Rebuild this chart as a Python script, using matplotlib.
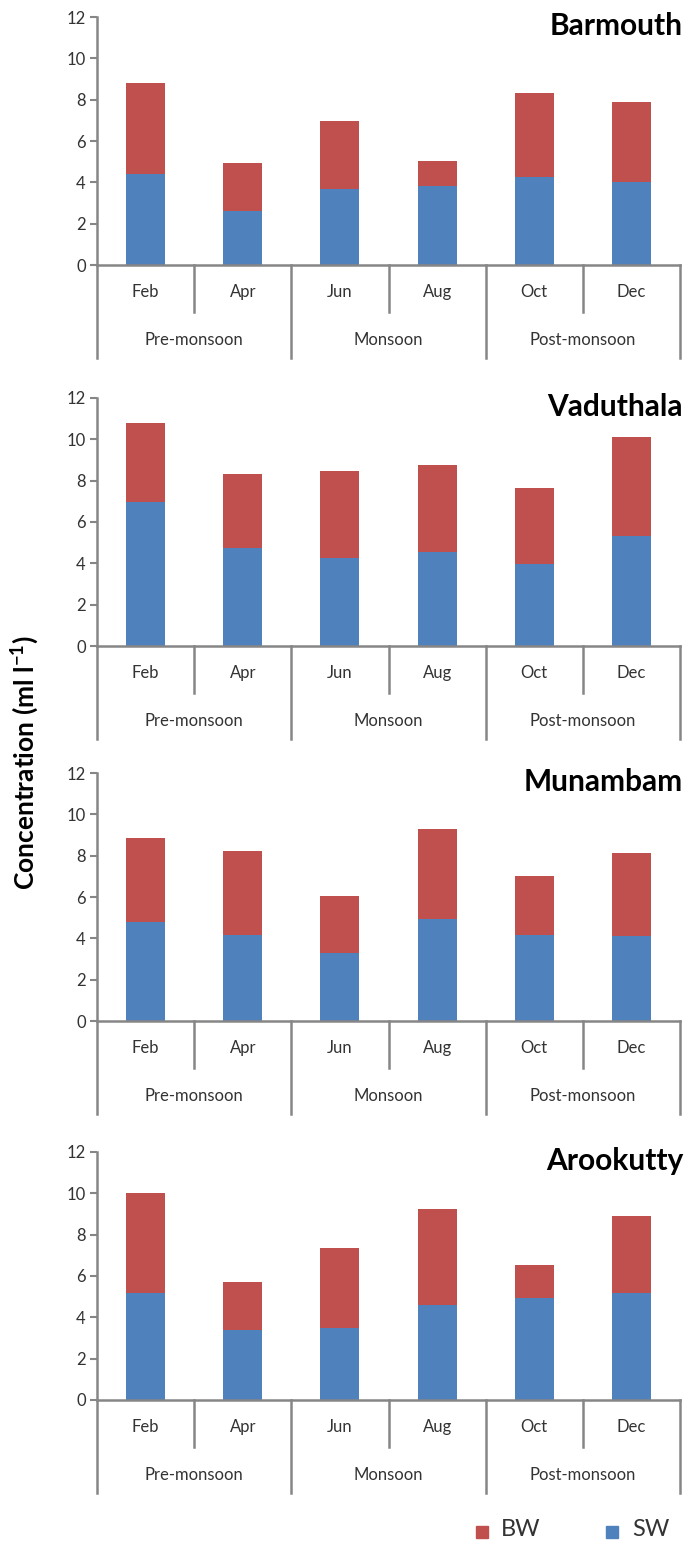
import matplotlib
matplotlib.use("Agg")
import matplotlib.pyplot as plt
import matplotlib.transforms as mtransforms
import numpy as np

plt.rcParams["font.family"] = ["Lato", "DejaVu Sans"]

# -----------------------------
# Data
# -----------------------------
months = ["Feb", "Apr", "Jun", "Aug", "Oct", "Dec"]
seasons = ["Pre-monsoon", "Monsoon", "Post-monsoon"]
stations = ["Barmouth", "Vaduthala", "Munambam", "Arookutty"]

sw_barmouth = [4.39, 2.59, 3.69, 3.82, 4.26, 4.00]
bw_barmouth = [4.44, 2.34, 3.28, 1.22, 4.06, 3.90]

sw_vaduthala = [6.98, 4.75, 4.25, 4.56, 3.99, 5.30]
bw_vaduthala = [3.79, 3.59, 4.23, 4.21, 3.67, 4.83]

sw_munambam = [4.80, 4.18, 3.27, 4.93, 4.18, 4.11]
bw_munambam = [4.05, 4.05, 2.78, 4.35, 2.86, 4.04]

sw_arookutty = [5.18, 3.38, 3.49, 4.61, 4.92, 5.18]
bw_arookutty = [4.85, 2.35, 3.86, 4.61, 1.62, 3.73]

sw_all = [sw_barmouth, sw_vaduthala, sw_munambam, sw_arookutty]
bw_all = [bw_barmouth, bw_vaduthala, bw_munambam, bw_arookutty]

# -----------------------------
# Style
# -----------------------------
RED = "#C0504D"
BLUE = "#4F81BD"
GREY = "#868686"
TXT = "#333333"
W, H = 689, 1544

fig = plt.figure(figsize=(W / 100, H / 100), dpi=100)

zero_px = [265, 646, 1021, 1400]
ax_h = 248
left_px, right_px = 97, 680

x = np.arange(len(months))

for i, station in enumerate(stations):
    bottom = (H - zero_px[i]) / H
    ax = fig.add_axes([left_px / W, bottom, (right_px - left_px) / W, ax_h / H])

    ax.bar(x, sw_all[i], width=0.4, color=BLUE, zorder=2)
    ax.bar(x, bw_all[i], width=0.4, bottom=sw_all[i], color=RED, zorder=2)

    ax.set_xlim(-0.5, 5.5)
    ax.set_ylim(0, 12)
    ax.set_yticks(range(0, 13, 2))
    ax.tick_params(axis="y", direction="out", length=5, width=1.5,
                   color=GREY, labelsize=12, pad=3, labelcolor=TXT)
    ax.set_xticks([])

    for side in ["top", "right"]:
        ax.spines[side].set_visible(False)
    for side in ["left", "bottom"]:
        ax.spines[side].set_color(GREY)
        ax.spines[side].set_linewidth(1.8)

    # multi-level category axis
    trans = mtransforms.blended_transform_factory(ax.transData, ax.transAxes)
    month_drop = -47 / ax_h
    season_drop = -93 / ax_h
    for b in [-0.5, 1.5, 3.5, 5.5]:
        ax.plot([b, b], [0, season_drop], color=GREY, lw=1.8,
                transform=trans, clip_on=False)
    for b in [0.5, 2.5, 4.5]:
        ax.plot([b, b], [0, month_drop], color=GREY, lw=1.8,
                transform=trans, clip_on=False)

    for j, m in enumerate(months):
        ax.text(j, -27 / ax_h, m, transform=trans, ha="center", va="center",
                fontsize=12, color=TXT)
    for k, s in enumerate(seasons):
        ax.text(2 * k + 0.5, -75 / ax_h, s, transform=trans, ha="center",
                va="center", fontsize=12, color=TXT)

    ax.text(1.0 + 3 / (right_px - left_px), 1.0 + 5 / ax_h, station,
            transform=ax.transAxes, ha="right", va="top", fontsize=21.5,
            fontweight="bold", color="black")

# y label
fig.text(25 / W, 1 - 763 / H, "Concentration (ml l$^{\\mathregular{-1}}$)",
         rotation=90, ha="center", va="center", fontsize=19, fontweight="bold")

# legend
fig.patches.append(plt.Rectangle((476 / W, 1 - 1538 / H), 12 / W, 12 / H,
                                 color=RED, transform=fig.transFigure))
fig.text(501 / W, 1 - 1530 / H, "BW", ha="left", va="center", fontsize=17,
         color=TXT)
fig.patches.append(plt.Rectangle((606 / W, 1 - 1538 / H), 12 / W, 12 / H,
                                 color=BLUE, transform=fig.transFigure))
fig.text(632 / W, 1 - 1530 / H, "SW", ha="left", va="center", fontsize=17,
         color=TXT)

fig.savefig("out.png", dpi=100)
